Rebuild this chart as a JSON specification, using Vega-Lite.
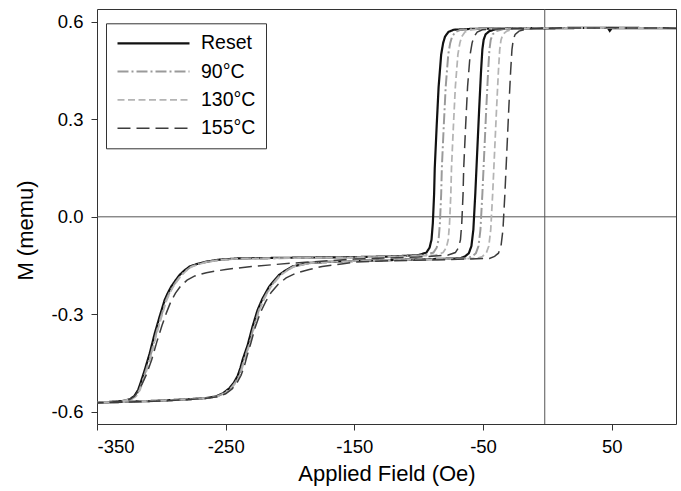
{
  "$schema": "https://vega.github.io/schema/vega-lite/v6.json",
  "width": 579,
  "height": 415,
  "autosize": {"type": "none"},
  "padding": {"left": 97, "top": 9, "right": 5, "bottom": 67},
  "background": "white",
  "config": {
    "view": {"stroke": "#333", "strokeWidth": 1},
    "font": "Liberation Sans",
    "axis": {"grid": false, "domain": false, "tickColor": "#333", "tickSize": 6, "labelFont": "Liberation Sans", "labelFontSize": 18.5, "labelColor": "#000", "titleFont": "Liberation Sans", "titleFontSize": 22, "titleFontWeight": "normal", "titleColor": "#000", "labelPadding": 7},
    "axisX": {"titlePadding": 8},
    "axisY": {"titleX": -64.7, "titleY": 221, "titleBaseline": "alphabetic", "titleAngle": -90, "labelPadding": 8}
  },
  "datasets": {
    "zero": [{"v": 0}],
    "vline": [{"v": -2}],
    "loops": [
      {"s":"Reset","x":100,"y":0.581},{"s":"Reset","x":50,"y":0.581},{"s":"Reset","x":48.5,"y":0.573},{"s":"Reset","x":47,"y":0.582},{"s":"Reset","x":20,"y":0.582},{"s":"Reset","x":0,"y":0.580},{"s":"Reset","x":-40,"y":0.580},{"s":"Reset","x":-58,"y":0.579},{"s":"Reset","x":-73,"y":0.576},{"s":"Reset","x":-77,"y":0.569},{"s":"Reset","x":-79.5,"y":0.555},{"s":"Reset","x":-81,"y":0.535},{"s":"Reset","x":-82.5,"y":0.50},{"s":"Reset","x":-84.5,"y":0.40},{"s":"Reset","x":-86,"y":0.28},{"s":"Reset","x":-87.5,"y":0.15},{"s":"Reset","x":-88,"y":0.07},{"s":"Reset","x":-89,"y":-0.02},{"s":"Reset","x":-90,"y":-0.07},{"s":"Reset","x":-91.5,"y":-0.095},{"s":"Reset","x":-94,"y":-0.11},{"s":"Reset","x":-100,"y":-0.118},{"s":"Reset","x":-120,"y":-0.122},{"s":"Reset","x":-150,"y":-0.124},{"s":"Reset","x":-200,"y":-0.126},{"s":"Reset","x":-240,"y":-0.128},{"s":"Reset","x":-255,"y":-0.132},{"s":"Reset","x":-265,"y":-0.138},{"s":"Reset","x":-272,"y":-0.145},{"s":"Reset","x":-278,"y":-0.153},{"s":"Reset","x":-282,"y":-0.165},{"s":"Reset","x":-285.8,"y":-0.179},{"s":"Reset","x":-289,"y":-0.196},{"s":"Reset","x":-292.3,"y":-0.215},{"s":"Reset","x":-295,"y":-0.235},{"s":"Reset","x":-297.4,"y":-0.256},{"s":"Reset","x":-301.3,"y":-0.307},{"s":"Reset","x":-305.1,"y":-0.359},{"s":"Reset","x":-309,"y":-0.420},{"s":"Reset","x":-312.9,"y":-0.472},{"s":"Reset","x":-316,"y":-0.51},{"s":"Reset","x":-318,"y":-0.533},{"s":"Reset","x":-321,"y":-0.552},{"s":"Reset","x":-324.5,"y":-0.562},{"s":"Reset","x":-330,"y":-0.567},{"s":"Reset","x":-340,"y":-0.570},{"s":"Reset","x":-350,"y":-0.572},
      {"s":"Reset","x":-330,"y":-0.570},{"s":"Reset","x":-300,"y":-0.566},{"s":"Reset","x":-280,"y":-0.562},{"s":"Reset","x":-265,"y":-0.558},{"s":"Reset","x":-257.5,"y":-0.553},{"s":"Reset","x":-252,"y":-0.543},{"s":"Reset","x":-247.1,"y":-0.528},{"s":"Reset","x":-243.5,"y":-0.51},{"s":"Reset","x":-240.7,"y":-0.49},{"s":"Reset","x":-238.5,"y":-0.465},{"s":"Reset","x":-236.8,"y":-0.44},{"s":"Reset","x":-232.9,"y":-0.395},{"s":"Reset","x":-229.1,"y":-0.338},{"s":"Reset","x":-225.2,"y":-0.287},{"s":"Reset","x":-221.4,"y":-0.252},{"s":"Reset","x":-216.2,"y":-0.215},{"s":"Reset","x":-212,"y":-0.195},{"s":"Reset","x":-208.5,"y":-0.179},{"s":"Reset","x":-203,"y":-0.164},{"s":"Reset","x":-198.2,"y":-0.153},{"s":"Reset","x":-185.3,"y":-0.142},{"s":"Reset","x":-160,"y":-0.137},{"s":"Reset","x":-120,"y":-0.133},{"s":"Reset","x":-90,"y":-0.130},{"s":"Reset","x":-68,"y":-0.128},{"s":"Reset","x":-64,"y":-0.122},{"s":"Reset","x":-61,"y":-0.112},{"s":"Reset","x":-59,"y":-0.09},{"s":"Reset","x":-57.5,"y":-0.04},{"s":"Reset","x":-56,"y":0.07},{"s":"Reset","x":-54.5,"y":0.20},{"s":"Reset","x":-53,"y":0.33},{"s":"Reset","x":-51.5,"y":0.45},{"s":"Reset","x":-50.5,"y":0.515},{"s":"Reset","x":-49.5,"y":0.545},{"s":"Reset","x":-48,"y":0.562},{"s":"Reset","x":-45,"y":0.572},{"s":"Reset","x":-39,"y":0.579},{"s":"Reset","x":-26,"y":0.581},{"s":"Reset","x":0,"y":0.581},{"s":"Reset","x":50,"y":0.582},{"s":"Reset","x":100,"y":0.581},

      {"s":"90°C","x":100,"y":0.581},{"s":"90°C","x":50,"y":0.582},{"s":"90°C","x":0,"y":0.581},{"s":"90°C","x":-40,"y":0.580},{"s":"90°C","x":-52.5,"y":0.579},{"s":"90°C","x":-67.5,"y":0.576},{"s":"90°C","x":-71.5,"y":0.569},{"s":"90°C","x":-74,"y":0.555},{"s":"90°C","x":-75.5,"y":0.535},{"s":"90°C","x":-77,"y":0.50},{"s":"90°C","x":-79,"y":0.40},{"s":"90°C","x":-80.5,"y":0.28},{"s":"90°C","x":-82,"y":0.15},{"s":"90°C","x":-82.5,"y":0.07},{"s":"90°C","x":-83.5,"y":-0.02},{"s":"90°C","x":-84.5,"y":-0.07},{"s":"90°C","x":-86,"y":-0.095},{"s":"90°C","x":-88.5,"y":-0.11},{"s":"90°C","x":-95,"y":-0.118},{"s":"90°C","x":-120,"y":-0.123},{"s":"90°C","x":-150,"y":-0.125},{"s":"90°C","x":-200,"y":-0.127},{"s":"90°C","x":-240,"y":-0.129},{"s":"90°C","x":-255,"y":-0.133},{"s":"90°C","x":-265,"y":-0.139},{"s":"90°C","x":-272,"y":-0.146},{"s":"90°C","x":-277,"y":-0.154},{"s":"90°C","x":-281,"y":-0.166},{"s":"90°C","x":-284.8,"y":-0.180},{"s":"90°C","x":-288,"y":-0.197},{"s":"90°C","x":-291.3,"y":-0.216},{"s":"90°C","x":-294,"y":-0.236},{"s":"90°C","x":-296.4,"y":-0.257},{"s":"90°C","x":-300.3,"y":-0.308},{"s":"90°C","x":-304.1,"y":-0.360},{"s":"90°C","x":-308,"y":-0.421},{"s":"90°C","x":-312,"y":-0.473},{"s":"90°C","x":-315,"y":-0.51},{"s":"90°C","x":-317,"y":-0.533},{"s":"90°C","x":-320,"y":-0.552},{"s":"90°C","x":-323.5,"y":-0.562},{"s":"90°C","x":-330,"y":-0.567},{"s":"90°C","x":-340,"y":-0.570},{"s":"90°C","x":-350,"y":-0.572},
      {"s":"90°C","x":-330,"y":-0.570},{"s":"90°C","x":-300,"y":-0.566},{"s":"90°C","x":-280,"y":-0.562},{"s":"90°C","x":-265,"y":-0.558},{"s":"90°C","x":-256.5,"y":-0.553},{"s":"90°C","x":-251,"y":-0.543},{"s":"90°C","x":-246.1,"y":-0.528},{"s":"90°C","x":-242.5,"y":-0.51},{"s":"90°C","x":-239.7,"y":-0.49},{"s":"90°C","x":-237.5,"y":-0.465},{"s":"90°C","x":-235.8,"y":-0.44},{"s":"90°C","x":-231.9,"y":-0.395},{"s":"90°C","x":-228.1,"y":-0.338},{"s":"90°C","x":-224.2,"y":-0.287},{"s":"90°C","x":-220.4,"y":-0.252},{"s":"90°C","x":-215.2,"y":-0.215},{"s":"90°C","x":-211,"y":-0.195},{"s":"90°C","x":-207.5,"y":-0.179},{"s":"90°C","x":-202,"y":-0.164},{"s":"90°C","x":-197.2,"y":-0.153},{"s":"90°C","x":-184,"y":-0.142},{"s":"90°C","x":-160,"y":-0.137},{"s":"90°C","x":-120,"y":-0.133},{"s":"90°C","x":-90,"y":-0.131},{"s":"90°C","x":-62.5,"y":-0.128},{"s":"90°C","x":-58.5,"y":-0.122},{"s":"90°C","x":-55.5,"y":-0.112},{"s":"90°C","x":-53.5,"y":-0.09},{"s":"90°C","x":-52,"y":-0.04},{"s":"90°C","x":-50.5,"y":0.07},{"s":"90°C","x":-49,"y":0.20},{"s":"90°C","x":-47.5,"y":0.33},{"s":"90°C","x":-46,"y":0.45},{"s":"90°C","x":-45,"y":0.515},{"s":"90°C","x":-44,"y":0.545},{"s":"90°C","x":-42.5,"y":0.562},{"s":"90°C","x":-39.5,"y":0.572},{"s":"90°C","x":-33.5,"y":0.579},{"s":"90°C","x":-20,"y":0.581},{"s":"90°C","x":0,"y":0.581},{"s":"90°C","x":50,"y":0.582},{"s":"90°C","x":100,"y":0.581},

      {"s":"130°C","x":100,"y":0.581},{"s":"130°C","x":50,"y":0.581},{"s":"130°C","x":0,"y":0.581},{"s":"130°C","x":-30,"y":0.580},{"s":"130°C","x":-45,"y":0.579},{"s":"130°C","x":-60,"y":0.576},{"s":"130°C","x":-64,"y":0.569},{"s":"130°C","x":-66.5,"y":0.555},{"s":"130°C","x":-68,"y":0.535},{"s":"130°C","x":-69.5,"y":0.50},{"s":"130°C","x":-71.5,"y":0.40},{"s":"130°C","x":-73,"y":0.28},{"s":"130°C","x":-74.5,"y":0.15},{"s":"130°C","x":-75,"y":0.07},{"s":"130°C","x":-76,"y":-0.02},{"s":"130°C","x":-77,"y":-0.07},{"s":"130°C","x":-78.5,"y":-0.095},{"s":"130°C","x":-81,"y":-0.11},{"s":"130°C","x":-87,"y":-0.118},{"s":"130°C","x":-110,"y":-0.122},{"s":"130°C","x":-150,"y":-0.125},{"s":"130°C","x":-200,"y":-0.127},{"s":"130°C","x":-240,"y":-0.129},{"s":"130°C","x":-255,"y":-0.133},{"s":"130°C","x":-264,"y":-0.139},{"s":"130°C","x":-271,"y":-0.146},{"s":"130°C","x":-276.5,"y":-0.154},{"s":"130°C","x":-280.5,"y":-0.166},{"s":"130°C","x":-284.3,"y":-0.180},{"s":"130°C","x":-287.5,"y":-0.197},{"s":"130°C","x":-290.8,"y":-0.216},{"s":"130°C","x":-293.5,"y":-0.236},{"s":"130°C","x":-295.9,"y":-0.257},{"s":"130°C","x":-299.8,"y":-0.308},{"s":"130°C","x":-303.6,"y":-0.360},{"s":"130°C","x":-307.5,"y":-0.421},{"s":"130°C","x":-311.4,"y":-0.473},{"s":"130°C","x":-314.5,"y":-0.51},{"s":"130°C","x":-316.5,"y":-0.533},{"s":"130°C","x":-319.5,"y":-0.552},{"s":"130°C","x":-323,"y":-0.562},{"s":"130°C","x":-330,"y":-0.567},{"s":"130°C","x":-340,"y":-0.570},{"s":"130°C","x":-350,"y":-0.572},
      {"s":"130°C","x":-330,"y":-0.570},{"s":"130°C","x":-300,"y":-0.566},{"s":"130°C","x":-280,"y":-0.562},{"s":"130°C","x":-265,"y":-0.558},{"s":"130°C","x":-256,"y":-0.553},{"s":"130°C","x":-250.5,"y":-0.543},{"s":"130°C","x":-245.6,"y":-0.528},{"s":"130°C","x":-242,"y":-0.51},{"s":"130°C","x":-239.2,"y":-0.49},{"s":"130°C","x":-237,"y":-0.465},{"s":"130°C","x":-235.3,"y":-0.44},{"s":"130°C","x":-231.4,"y":-0.395},{"s":"130°C","x":-227.6,"y":-0.338},{"s":"130°C","x":-223.7,"y":-0.287},{"s":"130°C","x":-219.9,"y":-0.252},{"s":"130°C","x":-214.7,"y":-0.215},{"s":"130°C","x":-210.5,"y":-0.195},{"s":"130°C","x":-207,"y":-0.179},{"s":"130°C","x":-201.5,"y":-0.164},{"s":"130°C","x":-196.7,"y":-0.153},{"s":"130°C","x":-183,"y":-0.142},{"s":"130°C","x":-160,"y":-0.137},{"s":"130°C","x":-120,"y":-0.133},{"s":"130°C","x":-80,"y":-0.130},{"s":"130°C","x":-54.5,"y":-0.128},{"s":"130°C","x":-50.5,"y":-0.122},{"s":"130°C","x":-47.5,"y":-0.112},{"s":"130°C","x":-45.5,"y":-0.09},{"s":"130°C","x":-44,"y":-0.04},{"s":"130°C","x":-42.5,"y":0.07},{"s":"130°C","x":-41,"y":0.20},{"s":"130°C","x":-39.5,"y":0.33},{"s":"130°C","x":-38,"y":0.45},{"s":"130°C","x":-37,"y":0.515},{"s":"130°C","x":-36,"y":0.545},{"s":"130°C","x":-34.5,"y":0.562},{"s":"130°C","x":-31.5,"y":0.572},{"s":"130°C","x":-25.5,"y":0.579},{"s":"130°C","x":-12,"y":0.581},{"s":"130°C","x":0,"y":0.581},{"s":"130°C","x":50,"y":0.582},{"s":"130°C","x":100,"y":0.581},

      {"s":"155°C","x":100,"y":0.581},{"s":"155°C","x":50,"y":0.582},{"s":"155°C","x":0,"y":0.581},{"s":"155°C","x":-20,"y":0.580},{"s":"155°C","x":-35.5,"y":0.579},{"s":"155°C","x":-50.5,"y":0.576},{"s":"155°C","x":-54.5,"y":0.569},{"s":"155°C","x":-57,"y":0.555},{"s":"155°C","x":-58.5,"y":0.535},{"s":"155°C","x":-60,"y":0.50},{"s":"155°C","x":-62,"y":0.40},{"s":"155°C","x":-63.5,"y":0.28},{"s":"155°C","x":-65,"y":0.15},{"s":"155°C","x":-65.5,"y":0.07},{"s":"155°C","x":-66.5,"y":-0.02},{"s":"155°C","x":-67.5,"y":-0.07},{"s":"155°C","x":-69,"y":-0.095},{"s":"155°C","x":-71.5,"y":-0.11},{"s":"155°C","x":-77.5,"y":-0.118},{"s":"155°C","x":-100,"y":-0.124},{"s":"155°C","x":-150,"y":-0.13},{"s":"155°C","x":-200,"y":-0.143},{"s":"155°C","x":-230,"y":-0.153},{"s":"155°C","x":-250,"y":-0.162},{"s":"155°C","x":-265,"y":-0.172},{"s":"155°C","x":-274,"y":-0.182},{"s":"155°C","x":-280,"y":-0.195},{"s":"155°C","x":-285,"y":-0.213},{"s":"155°C","x":-289,"y":-0.235},{"s":"155°C","x":-292.5,"y":-0.26},{"s":"155°C","x":-296,"y":-0.295},{"s":"155°C","x":-299.5,"y":-0.335},{"s":"155°C","x":-303.5,"y":-0.385},{"s":"155°C","x":-307.5,"y":-0.44},{"s":"155°C","x":-311.5,"y":-0.485},{"s":"155°C","x":-315,"y":-0.515},{"s":"155°C","x":-318,"y":-0.537},{"s":"155°C","x":-321,"y":-0.553},{"s":"155°C","x":-324.5,"y":-0.562},{"s":"155°C","x":-330,"y":-0.567},{"s":"155°C","x":-340,"y":-0.571},{"s":"155°C","x":-350,"y":-0.573},
      {"s":"155°C","x":-330,"y":-0.571},{"s":"155°C","x":-300,"y":-0.567},{"s":"155°C","x":-280,"y":-0.563},{"s":"155°C","x":-265,"y":-0.559},{"s":"155°C","x":-256,"y":-0.554},{"s":"155°C","x":-250,"y":-0.545},{"s":"155°C","x":-245,"y":-0.53},{"s":"155°C","x":-241,"y":-0.51},{"s":"155°C","x":-238,"y":-0.488},{"s":"155°C","x":-235.5,"y":-0.46},{"s":"155°C","x":-233.5,"y":-0.43},{"s":"155°C","x":-230.5,"y":-0.39},{"s":"155°C","x":-227,"y":-0.34},{"s":"155°C","x":-223,"y":-0.295},{"s":"155°C","x":-219,"y":-0.262},{"s":"155°C","x":-214.5,"y":-0.232},{"s":"155°C","x":-209,"y":-0.207},{"s":"155°C","x":-203,"y":-0.188},{"s":"155°C","x":-195.6,"y":-0.174},{"s":"155°C","x":-185,"y":-0.162},{"s":"155°C","x":-175,"y":-0.153},{"s":"155°C","x":-160,"y":-0.145},{"s":"155°C","x":-149,"y":-0.139},{"s":"155°C","x":-120,"y":-0.135},{"s":"155°C","x":-80,"y":-0.132},{"s":"155°C","x":-45,"y":-0.128},{"s":"155°C","x":-41,"y":-0.122},{"s":"155°C","x":-38,"y":-0.112},{"s":"155°C","x":-36,"y":-0.09},{"s":"155°C","x":-34.5,"y":-0.04},{"s":"155°C","x":-33,"y":0.07},{"s":"155°C","x":-31.5,"y":0.20},{"s":"155°C","x":-30,"y":0.33},{"s":"155°C","x":-28.5,"y":0.45},{"s":"155°C","x":-27.5,"y":0.515},{"s":"155°C","x":-26.5,"y":0.545},{"s":"155°C","x":-25,"y":0.562},{"s":"155°C","x":-22,"y":0.572},{"s":"155°C","x":-16,"y":0.579},{"s":"155°C","x":-3,"y":0.581},{"s":"155°C","x":50,"y":0.582},{"s":"155°C","x":100,"y":0.581}
    ]
  },
  "layer": [
    {
      "data": {"name": "zero"},
      "mark": {"type": "rule", "color": "#555", "strokeWidth": 1},
      "encoding": {"y": {"field": "v", "type": "quantitative", "title": "M (memu)"}}
    },
    {
      "data": {"name": "vline"},
      "mark": {"type": "rule", "color": "#555", "strokeWidth": 1},
      "encoding": {"x": {"field": "v", "type": "quantitative", "title": "Applied Field (Oe)"}}
    },
    {
      "data": {"name": "loops"},
      "mark": {"type": "line", "clip": true},
      "encoding": {
        "x": {"field": "x", "type": "quantitative", "title": "Applied Field (Oe)", "scale": {"domain": [-350, 100], "nice": false, "zero": false},
              "axis": {"values": [-350, -250, -150, -50, 50], "labelExpr": "replace(format(datum.value, 'd'), '\u2212', '-')"}},
        "y": {"field": "y", "type": "quantitative", "title": "M (memu)", "scale": {"domain": [-0.638, 0.64], "nice": false, "zero": false},
              "axis": {"values": [-0.6, -0.3, 0, 0.3, 0.6], "labelExpr": "replace(format(datum.value, '.1f'), '\u2212', '-')"}},
        "color": {"field": "s", "type": "nominal",
                  "scale": {"domain": ["Reset", "90°C", "130°C", "155°C"], "range": ["#111111", "#9a9a9a", "#b4b4b4", "#3c3c3c"]},
                  "legend": {"orient": "none", "legendX": 9, "legendY": 14.3, "title": null, "strokeColor": "#333", "fillColor": "#fff", "padding": 10, "symbolType": "stroke", "symbolSize": 5184, "clipHeight": 20, "rowPadding": 8.3, "labelFontSize": 19.5, "labelFont": "Liberation Sans", "labelColor": "#000", "labelOffset": 10}},
        "strokeDash": {"field": "s", "type": "nominal",
                  "scale": {"domain": ["Reset", "90°C", "130°C", "155°C"], "range": [[1, 0], [11, 3, 2, 3], [7, 3.5], [13, 6]]}},
        "strokeWidth": {"field": "s", "type": "nominal",
                  "scale": {"domain": ["Reset", "90°C", "130°C", "155°C"], "range": [2.2, 1.5, 1.5, 1.5]}},
        "order": {"value": null}
      }
    }
  ]
}
